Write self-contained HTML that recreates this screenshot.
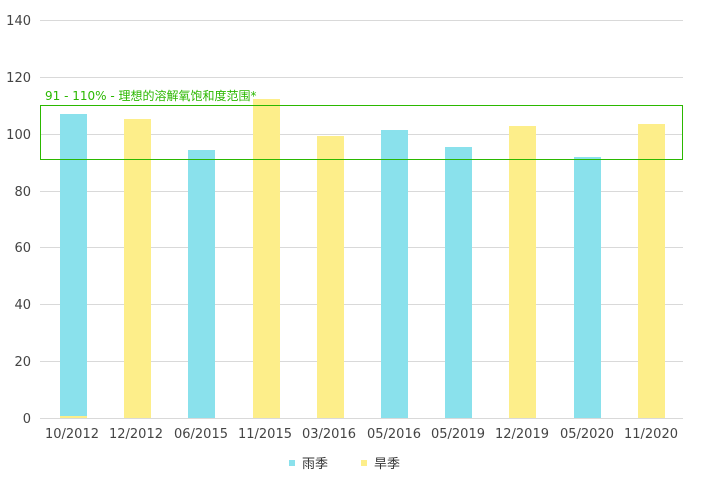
<!DOCTYPE html>
<html><head><meta charset="utf-8"><style>
html,body{margin:0;padding:0;background:#fff;}
svg{display:block;font-family:"DejaVu Sans","Liberation Sans","Noto Sans CJK SC",sans-serif;}
</style></head><body>
<svg width="702" height="498" viewBox="0 0 702 498">
<g stroke="#d9d9d9" stroke-width="1">
<line x1="40" x2="683" y1="20.5" y2="20.5"/>
<line x1="40" x2="683" y1="77.5" y2="77.5"/>
<line x1="40" x2="683" y1="134.5" y2="134.5"/>
<line x1="40" x2="683" y1="191.5" y2="191.5"/>
<line x1="40" x2="683" y1="247.5" y2="247.5"/>
<line x1="40" x2="683" y1="304.5" y2="304.5"/>
<line x1="40" x2="683" y1="361.5" y2="361.5"/>
</g>
<g font-size="13" fill="#444" text-anchor="end">
<text x="31" y="25">140</text><text x="31" y="82">120</text><text x="31" y="139">100</text>
<text x="31" y="196">80</text><text x="31" y="252">60</text><text x="31" y="309">40</text>
<text x="31" y="366">20</text><text x="31" y="423">0</text>
</g>
<g fill="#8ae1ec">
<rect x="60" y="114" width="27" height="304"/>
<rect x="188" y="150" width="27" height="268"/>
<rect x="381" y="130" width="27" height="288"/>
<rect x="445" y="147" width="27" height="271"/>
<rect x="574" y="157" width="27" height="261"/>
</g>
<g fill="#fdee8a">
<rect x="124" y="119" width="27" height="299"/>
<rect x="253" y="99" width="27" height="319"/>
<rect x="317" y="136" width="27" height="282"/>
<rect x="509" y="126" width="27" height="292"/>
<rect x="638" y="124" width="27" height="294"/>
<rect x="60" y="416" width="27" height="2"/>
</g>
<line x1="40" x2="683" y1="418.5" y2="418.5" stroke="#d9d9d9"/>
<rect x="40.5" y="105.5" width="642" height="54" fill="none" stroke="#2bb800" stroke-width="1"/>
<text x="45" y="100" font-size="12" fill="#2bb800">91 - 110% - 理想的溶解氧饱和度范围*</text>
<g font-size="13" fill="#444" text-anchor="middle">
<text x="72" y="438">10/2012</text><text x="136" y="438">12/2012</text><text x="201" y="438">06/2015</text>
<text x="265" y="438">11/2015</text><text x="329" y="438">03/2016</text><text x="394" y="438">05/2016</text>
<text x="458" y="438">05/2019</text><text x="522" y="438">12/2019</text><text x="587" y="438">05/2020</text>
<text x="651" y="438">11/2020</text>
</g>
<rect x="289" y="460" width="6" height="6" fill="#8ae1ec"/>
<text x="302" y="468" font-size="13" fill="#333">雨季</text>
<rect x="361" y="460" width="6" height="6" fill="#fdee8a"/>
<text x="374" y="468" font-size="13" fill="#333">旱季</text>
</svg>
</body></html>
